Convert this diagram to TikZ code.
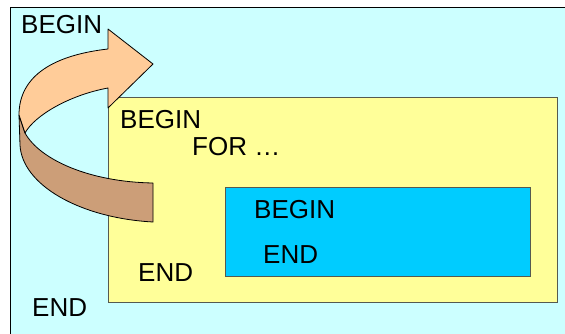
\documentclass[tikz,border=0pt]{standalone}
\usepackage{fontspec}
\setmainfont{Liberation Sans}
\definecolor{outerbg}{HTML}{CCFFFF}
\definecolor{yellowbg}{HTML}{FFFF99}
\definecolor{bluebg}{HTML}{00CCFF}
\definecolor{arrowlight}{HTML}{FFCC99}
\definecolor{arrowdark}{HTML}{CC9E78}
\definecolor{boxedge}{HTML}{555A50}
\begin{document}
\begin{tikzpicture}[x=1pt,y=-1pt]
\tikzset{
  txt/.style={anchor=base west, inner sep=0pt, font=\fontsize{26}{26}\selectfont},
  panel/.style={draw=boxedge, line width=1pt, anchor=north west, inner sep=0pt},
  arrowpart/.style={draw=black, line width=0.8pt, line join=round}
}
\clip (0,0) rectangle (565,334);
\fill[white] (0,0) rectangle (565,334);
% outer box
\node[draw=black, line width=1.3pt, fill=outerbg, anchor=north west, inner sep=0pt,
      minimum width=570pt, minimum height=340pt] (outer) at (10,7) {};
% yellow box
\node[panel, fill=yellowbg, minimum width=449pt, minimum height=205pt] (yellow) at (108,97) {};
% blue box
\node[panel, fill=bluebg, minimum width=305pt, minimum height=89pt] (blue) at (225,187) {};
% arrow back part
\path[arrowpart, fill=arrowdark] (19,115) -- (20,145)
  .. controls (22,185) and (80,218) .. (153,222) -- (153,183)
  .. controls (90,182) and (40,160) .. (25,133) -- cycle;
% arrow front part
\path[arrowpart, fill=arrowlight] (19,115)
  .. controls (19,75) and (55,55) .. (108,49) -- (108,29) -- (153,64)
  -- (108,108) -- (108,88)
  .. controls (70,95) and (35,115) .. (25,133) -- cycle;
% texts
\node[txt] (b1) at (21,34) {BEGIN};
\node[txt] (b2) at (120,129) {BEGIN};
\node[txt] (for) at (192,156) {FOR …};
\node[txt] (e2) at (138,281) {END};
\node[txt] (b3) at (254,218) {BEGIN};
\node[txt] (e3) at (263,263) {END};
\node[txt] (e1) at (32,316) {END};
\end{tikzpicture}
\end{document}
